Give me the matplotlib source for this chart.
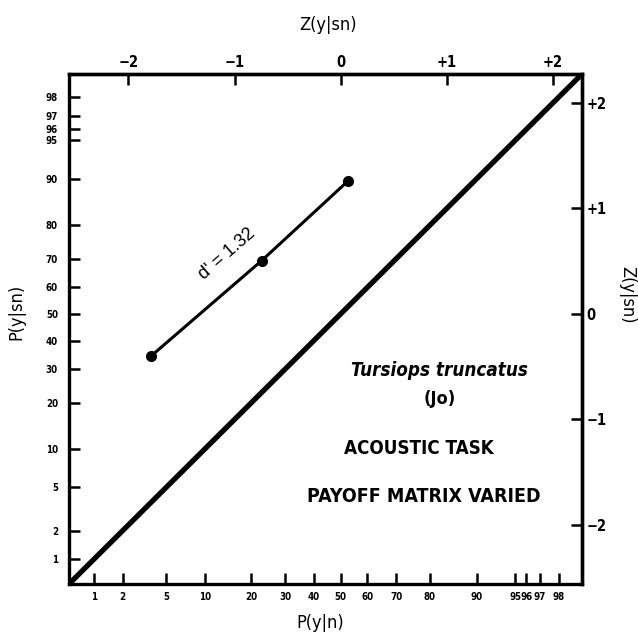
from statistics import NormalDist
import matplotlib
matplotlib.use('Agg')
import matplotlib.pyplot as plt

# ROC data, percentages
p_false_alarm = [3.7, 22.8, 52.7]   # P(y|n)
p_hit = [34.5, 69.3, 89.6]          # P(y|sn)
d_prime_label = "d' = 1.32"

# probability tick values (both axes) and z ticks
p_ticks = [1, 2, 5, 10, 20, 30, 40, 50, 60, 70, 80, 90, 95, 96, 97, 98]
z_ticks = [-2, -1, 0, 1, 2]
z_tick_labels = ['\u22122', '\u22121', '0', '+1', '+2']

nd = NormalDist()
def probit(p):
    return nd.inv_cdf(p / 100.0)

narrow = ['Liberation Sans Narrow', 'DejaVu Sans Condensed', 'DejaVu Sans']
plt.rcParams['font.family'] = narrow
plt.rcParams['font.stretch'] = 'condensed'

fig = plt.figure(figsize=(6.38, 6.38), dpi=100)
ax = fig.add_axes([69/638, 1-584/638, 513/638, 510/638])

lo, hi = -2.56, 2.275
ax.set_xlim(lo, hi)
ax.set_ylim(lo, hi)

# chance diagonal
ax.plot([lo, hi], [lo, hi], color='black', lw=3.8, solid_capstyle='butt')

zx = [probit(p) for p in p_false_alarm]
zy = [probit(p) for p in p_hit]
ax.plot(zx, zy, color='black', lw=2.2, marker='o', ms=7)

ax.text(-1.07, 0.57, d_prime_label, rotation=41, ha='center', va='center',
        fontsize=13, family=['Liberation Sans', 'DejaVu Sans'], stretch='normal')

# probability ticks bottom / left
zp = [probit(p) for p in p_ticks]
ax.set_xticks(zp)
ax.set_xticklabels([str(p) for p in p_ticks])
ax.set_yticks(zp)
ax.set_yticklabels([str(p) for p in p_ticks])
ax.tick_params(direction='in', length=8, width=1.8, labelsize=7, pad=6)
ax.tick_params(axis='y', pad=8)
for lab in ax.get_xticklabels() + ax.get_yticklabels():
    lab.set_fontweight('bold')

for s in ax.spines.values():
    s.set_linewidth(2.4)

# z ticks top / right
top = ax.secondary_xaxis('top')
top.set_xticks(z_ticks)
top.set_xticklabels(z_tick_labels)
right = ax.secondary_yaxis('right')
right.set_yticks(z_ticks)
right.set_yticklabels(z_tick_labels)
for sec in (top, right):
    sec.tick_params(direction='in', length=8, width=1.8, labelsize=10.5, pad=3)
    for lab in sec.get_xticklabels() + sec.get_yticklabels():
        lab.set_fontweight('bold')
    for s in sec.spines.values():
        s.set_linewidth(2.4)

# axis titles
fig.text(328/638, 1-25/638, 'Z(y|sn)', ha='center', va='center', fontsize=13)
fig.text(320/638, 1-623/638, 'P(y|n)', ha='center', va='center', fontsize=13)
fig.text(16/638, 1-312/638, 'P(y|sn)', ha='center', va='center', fontsize=13, rotation=90)
fig.text(627/638, 1-295/638, 'Z(y|sn)', ha='center', va='center', fontsize=13, rotation=-90)

# annotation block
fig.text(439/638, 1-371/638, 'Tursiops truncatus', ha='center', va='center',
         fontsize=13.5, style='italic', fontweight='bold')
fig.text(440/638, 1-399/638, '(Jo)', ha='center', va='center', fontsize=13, fontweight='bold')
fig.text(419/638, 1-448/638, 'ACOUSTIC TASK', ha='center', va='center', fontsize=13.5, fontweight='bold')
fig.text(424/638, 1-497/638, 'PAYOFF MATRIX VARIED', ha='center', va='center', fontsize=14, fontweight='bold')

fig.savefig('out.png', dpi=100, facecolor='white')
